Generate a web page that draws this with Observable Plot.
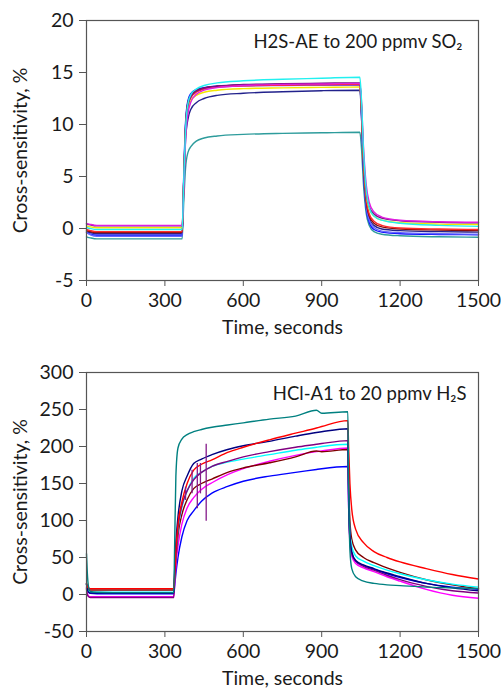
<!DOCTYPE html>
<html><head><meta charset="utf-8">
<script src="https://cdn.jsdelivr.net/npm/d3@7"></script>
<script src="https://cdn.jsdelivr.net/npm/@observablehq/plot@0.6"></script>
<style>body{margin:0;background:#fff;} #chart{width:501px;} svg{display:block}</style>
</head><body><div id="chart"></div><script>
// ---------- shared axis data ----------
const xTicks = [0, 300, 600, 900, 1200, 1500];
const xLabel = "Time, seconds";
const yLabel = "Cross-sensitivity, %";

// ---------- top panel: H2S-AE to 200 ppmv SO2 ----------
const topTitle = "H2S-AE to 200 ppmv SO₂";
const topYTicks = [-5, 0, 5, 10, 15, 20];
const topTime = [0, 15, 40, 366, 372, 379, 388, 400, 420, 450, 500, 600, 750, 900, 1046, 1052, 1060, 1070, 1082, 1100, 1130, 1200, 1350, 1500];
const topNames = ["teal", "navy", "blue", "slate", "maroon", "red", "yellow", "purple", "magenta", "cyan"];
const topColors = ["#2e9c9c", "#22228c", "#1010ff", "#6464ff", "#8b0a0a", "#ff2a2a", "#f2e600", "#7a1080", "#e01ee0", "#22f0f0"];
const topTeal    = [-0.8, -0.9, -1.0, -1.0, 2.5, 5.8, 7.3, 7.9, 8.4, 8.7, 8.9, 9.05, 9.15, 9.2, 9.25, 7.8, 4.2, 1.5, 0.3, -0.3, -0.55, -0.7, -0.8, -0.84];
const topNavy    = [-0.3, -0.4, -0.5, -0.5, 3.8, 8.5, 10.5, 11.5, 12.1, 12.5, 12.8, 13.0, 13.15, 13.25, 13.3, 11.0, 5.8, 2.5, 1.0, 0.3, -0.05, -0.2, -0.3, -0.35];
const topBlue    = [-0.4, -0.55, -0.65, -0.65, 5.0, 10.2, 12.3, 13.0, 13.35, 13.55, 13.7, 13.8, 13.85, 13.88, 13.9, 11.0, 5.5, 2.0, 0.6, -0.1, -0.35, -0.5, -0.57, -0.6];
const topSlate   = [-0.4, -0.6, -0.75, -0.75, 4.8, 9.9, 12.0, 12.8, 13.2, 13.45, 13.6, 13.7, 13.75, 13.78, 13.8, 11.3, 5.9, 2.3, 0.8, 0.1, -0.25, -0.4, -0.5, -0.55];
const topMaroon  = [-0.2, -0.3, -0.4, -0.4, 4.6, 9.8, 12.1, 12.8, 13.25, 13.5, 13.65, 13.78, 13.84, 13.88, 13.9, 11.5, 6.2, 2.7, 1.2, 0.5, 0.15, -0.05, -0.15, -0.2];
const topRed     = [-0.1, -0.2, -0.3, -0.3, 4.3, 9.4, 11.8, 12.6, 13.1, 13.4, 13.6, 13.72, 13.78, 13.82, 13.85, 11.8, 6.6, 3.0, 1.4, 0.7, 0.3, 0.05, -0.05, -0.1];
const topYellow  = [0.25, 0.15, 0.07, 0.07, 4.2, 9.2, 11.5, 12.3, 12.8, 13.1, 13.3, 13.45, 13.52, 13.57, 13.6, 11.7, 6.8, 3.4, 1.9, 1.2, 0.8, 0.55, 0.42, 0.38];
const topPurple  = [0.45, 0.35, 0.25, 0.25, 4.5, 9.5, 11.8, 12.7, 13.2, 13.5, 13.7, 13.85, 13.92, 13.97, 14.0, 12.0, 7.0, 3.6, 2.1, 1.4, 1.0, 0.75, 0.6, 0.55];
const topMagenta = [0.5, 0.4, 0.3, 0.3, 3.5, 8.5, 11.0, 12.2, 12.9, 13.3, 13.55, 13.75, 13.85, 13.9, 13.95, 12.3, 7.8, 4.3, 2.5, 1.6, 1.1, 0.8, 0.65, 0.6];
const topCyan    = [0.1, 0.0, -0.1, -0.1, 4.5, 9.5, 12.0, 12.9, 13.4, 13.75, 14.0, 14.2, 14.35, 14.45, 14.55, 12.5, 7.5, 3.8, 2.0, 1.2, 0.8, 0.5, 0.3, 0.2];
const topSeries = [topTeal, topNavy, topBlue, topSlate, topMaroon, topRed, topYellow, topPurple, topMagenta, topCyan];

// ---------- bottom panel: HCl-A1 to 20 ppmv H2S ----------
const botTitle = "HCl-A1 to 20 ppmv H₂S";
const botYTicks = [-50, 0, 50, 100, 150, 200, 250, 300];
const botTime = [0, 3, 8, 15, 40, 100, 200, 334, 337, 342, 350, 365, 385, 410, 440, 480, 540, 600, 700, 800, 880, 900, 1000, 1003, 1008, 1015, 1030, 1060, 1100, 1150, 1200, 1300, 1400, 1500];
const botNames = ["blue", "magenta", "maroon", "cyan", "purple", "navy", "red", "teal"];
const botColors = ["#1818ff", "#ff30ff", "#8b0d0d", "#30e8e8", "#851a8a", "#3d3da6", "#ff3030", "#35a09a"];
const botBlue    = [14, 8, 3, 1.5, 1, 1, 1, 1, 10, 28, 50, 78, 100, 113, 126, 137, 146, 153, 160, 165, 169, 170, 173, 120, 75, 55, 45, 39, 34, 28, 23, 15, 10, 7];
const botMagenta = [10, 2, -2, -3, -3, -3, -3, -3, 12, 38, 65, 95, 117, 131, 142, 151, 162, 170, 180, 188, 193, 194, 198, 120, 70, 52, 42, 36, 31, 24, 18, 7, -1, -5];
const botMaroon  = [15, 10, 7, 6, 6, 6, 6, 6, 20, 48, 80, 108, 128, 143, 150, 156, 165, 171, 178, 186, 194, 193, 196, 150, 100, 75, 60, 50, 43, 36, 30, 20, 13, 8];
const botCyan    = [14, 8, 4, 3, 3, 3, 3, 3, 22, 55, 88, 118, 140, 157, 165, 173, 179, 183, 189, 195, 199, 200, 203, 140, 85, 65, 52, 45, 39, 33, 28, 20, 14, 10];
const botPurple  = [8, 0, -3, -4, -4, -4, -4, -4, 20, 55, 90, 120, 140, 155, 165, 173, 180, 186, 193, 199, 203, 204, 208, 130, 75, 55, 45, 38, 33, 26, 20, 11, 5, 2];
const botNavy    = [14, 8, 3, 2, 2, 2, 2, 2, 30, 70, 105, 140, 160, 177, 183, 189, 196, 201, 207, 214, 219, 220, 224, 140, 80, 58, 46, 40, 35, 29, 24, 15, 9, 5];
const botRed     = [15, 11, 9, 8, 8, 8, 8, 8, 25, 60, 95, 125, 150, 168, 176, 182, 192, 199, 209, 218, 225, 227, 235, 200, 150, 115, 88, 70, 58, 50, 44, 35, 27, 21];
const botTeal    = [55, 30, 10, 4, 3, 2.5, 2.5, 2.5, 60, 160, 198, 210, 216, 220, 223, 226, 229, 232, 237, 241, 249, 245, 247, 150, 60, 35, 24, 18, 15, 13, 12, 10, 9, 8];
const botSeries = [botBlue, botMagenta, botMaroon, botCyan, botPurple, botNavy, botRed, botTeal];
// noisy vertical spikes on the purple trace
const spikeTime = [379, 404, 424, 436, 458];
const spikeLow  = [127, 136, 116, 136, 99];
const spikeHigh = [145, 168, 177, 177, 203];

function rowsOf(time, names, series) {
  return names.flatMap((name, i) => time.map((t, j) => ({t, v: series[i][j], s: name})));
}

function panel({height, marginTop, marginBottom, yDomain, yTicks, names, colors, rows, title, titleDx, titleDy, extra}) {
  return Plot.plot({
    width: 501, height, marginTop, marginBottom, marginLeft: 86, marginRight: 23,
    style: {fontFamily: "Lato, 'Open Sans', sans-serif", fontSize: "19.5px", color: "#1a1a1a", background: "#fff"},
    x: {domain: [0, 1500]},
    y: {domain: yDomain},
    color: {domain: names, range: colors},
    marks: [
      Plot.axisX({ticks: xTicks, tickSize: 6, tickPadding: 7, tickFormat: d => String(d), stroke: "#555",
        label: xLabel, labelAnchor: "center", labelArrow: "none", labelOffset: 53, fontSize: 19.5}),
      Plot.axisY({ticks: yTicks, tickSize: 7, tickPadding: 6, tickFormat: d => String(d), stroke: "#555",
        label: yLabel, labelAnchor: "center", labelArrow: "none", labelOffset: 73, fontSize: 19.5}),
      Plot.line(rows, {x: "t", y: "v", z: "s", stroke: "s", strokeWidth: 1.4, curve: "monotone-x"}),
      ...(extra || []),
      Plot.frame({stroke: "#555", strokeWidth: 1.2}),
      Plot.text([title], {frameAnchor: "top-right", dx: titleDx, dy: titleDy, fontSize: 18.5, fill: "#1a1a1a", textAnchor: "end", lineAnchor: "top"})
    ]
  });
}

const topPlot = panel({
  height: 345, marginTop: 20, marginBottom: 65, yDomain: [-5, 20], yTicks: topYTicks,
  names: topNames, colors: topColors, rows: rowsOf(topTime, topNames, topSeries),
  title: topTitle, titleDx: -16, titleDy: 14
});
const spikes = spikeTime.map((t, i) => ({t, lo: spikeLow[i], hi: spikeHigh[i]}));
const botPlot = panel({
  height: 346, marginTop: 27, marginBottom: 60, yDomain: [-50, 300], yTicks: botYTicks,
  names: botNames, colors: botColors, rows: rowsOf(botTime, botNames, botSeries),
  title: botTitle, titleDx: -12, titleDy: 14,
  extra: [Plot.ruleX(spikes, {x: "t", y1: "lo", y2: "hi", stroke: "#851a8a", strokeWidth: 1.3})]
});
const el = document.getElementById("chart");
el.append(topPlot, botPlot);
</script></body></html>
